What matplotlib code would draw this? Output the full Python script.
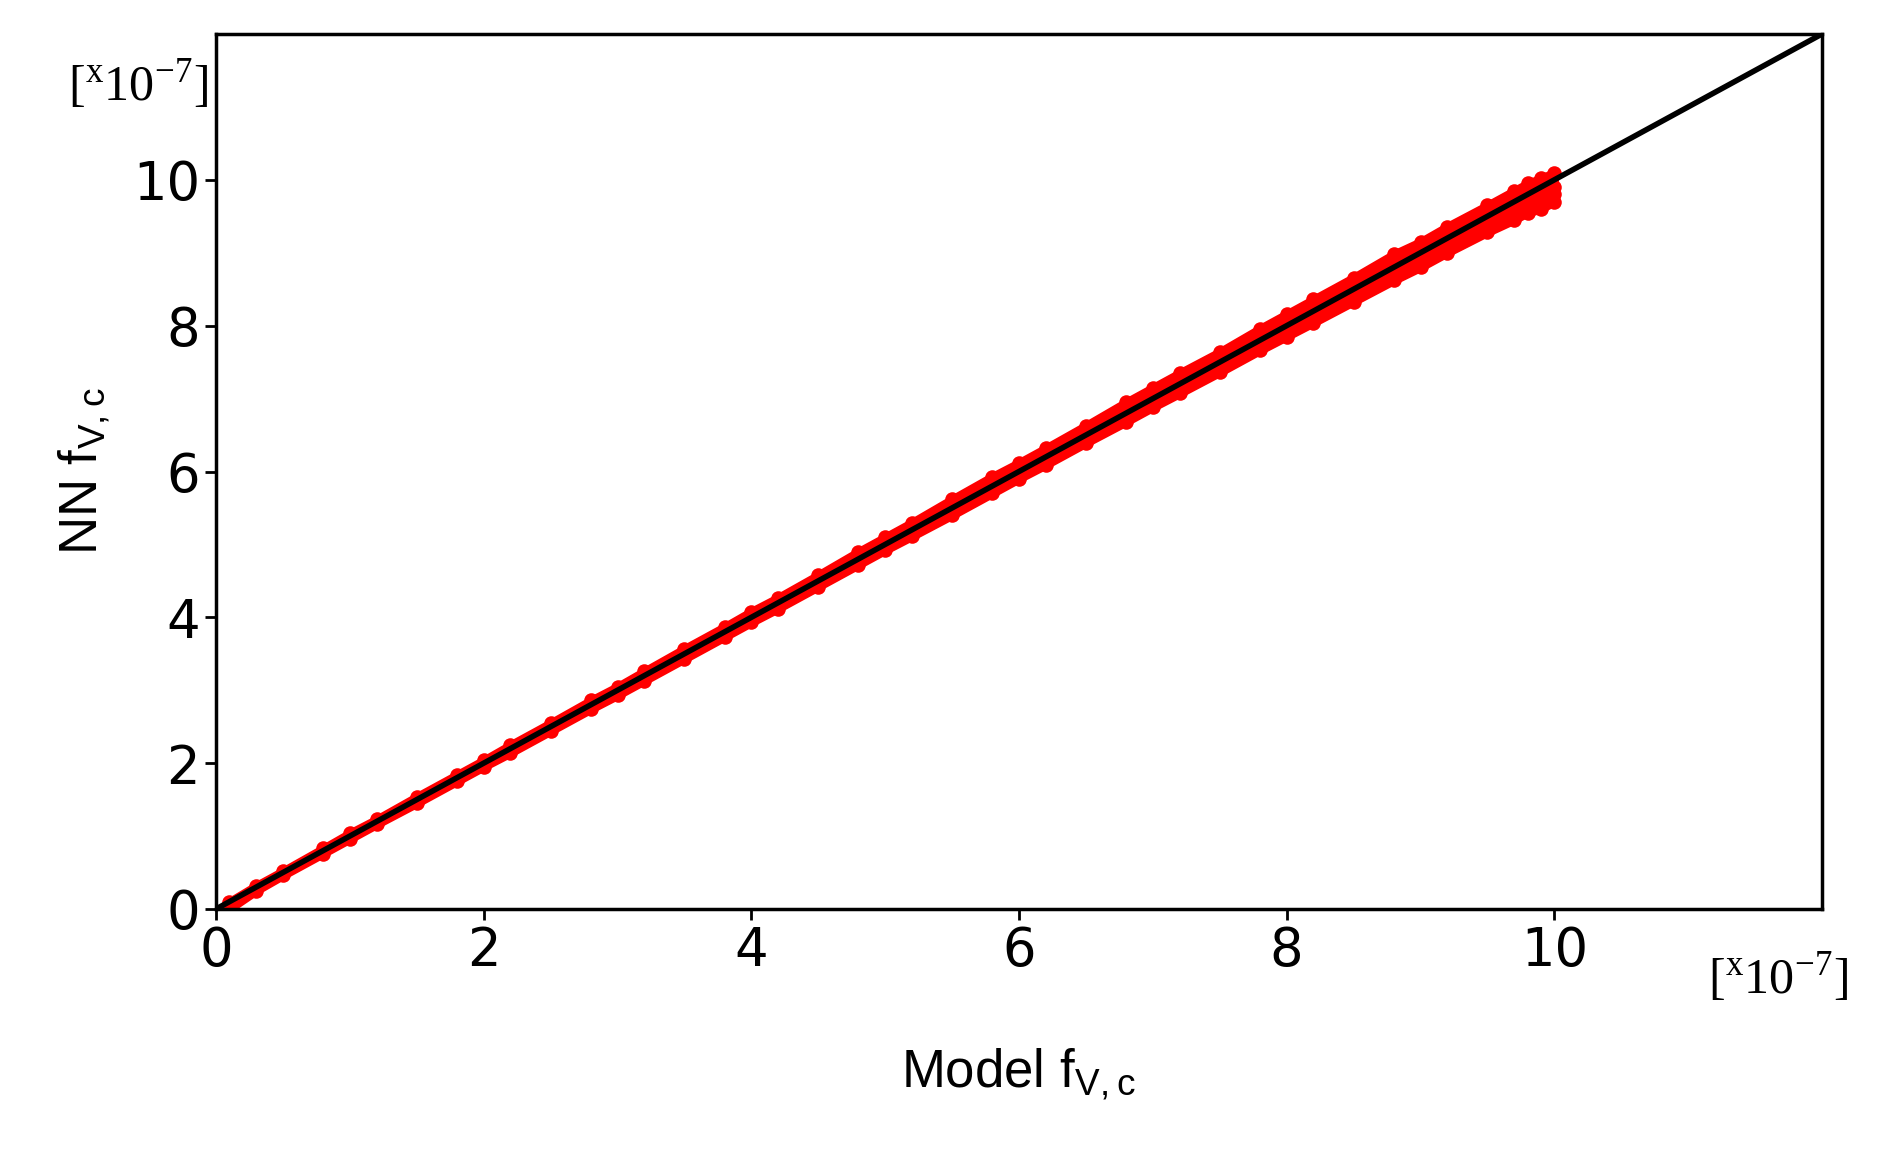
import matplotlib
matplotlib.use("Agg")
import matplotlib.pyplot as plt

model = [0.1,0.3,0.5,0.8,1.0,1.2,1.5,1.8,2.0,2.2,2.5,2.8,3.0,3.2,3.5,3.8,4.0,4.2,4.5,4.8,5.0,5.2,5.5,5.8,6.0,6.2,6.5,6.8,7.0,7.2,7.5,7.8,8.0,8.2,8.5,8.8,9.0,9.2,9.5,9.7,9.8,9.9,10.0,10.0]
nn_hi = [0.1,0.32,0.52,0.83,1.04,1.23,1.54,1.84,2.04,2.25,2.55,2.86,3.05,3.26,3.57,3.87,4.08,4.27,4.58,4.9,5.1,5.3,5.62,5.93,6.12,6.32,6.63,6.95,7.15,7.35,7.64,7.96,8.16,8.36,8.66,8.98,9.15,9.36,9.65,9.85,9.95,10.02,10.1,9.9]
nn_lo = [0.0,0.25,0.46,0.76,0.96,1.16,1.45,1.75,1.95,2.14,2.44,2.74,2.93,3.13,3.43,3.73,3.93,4.12,4.42,4.72,4.92,5.11,5.4,5.7,5.9,6.09,6.39,6.68,6.88,7.07,7.36,7.66,7.85,8.04,8.33,8.62,8.8,9.0,9.28,9.45,9.55,9.6,9.7,9.8]

fig = plt.figure(figsize=(18.95, 11.6), dpi=100)
ax = fig.add_axes([216/1895, 1-909/1160, (1822-216)/1895, (909-34)/1160])
ax.scatter(model, nn_hi, s=110, color="red", zorder=2, linewidths=0)
ax.scatter(model, nn_lo, s=110, color="red", zorder=2, linewidths=0)
ax.fill_between(model, nn_lo, nn_hi, color="red", zorder=2, lw=6, edgecolor="red")
ax.plot([0, 12], [0, 12], color="black", lw=4, zorder=3)
ax.set_xlim(0, 12)
ax.set_ylim(0, 12)
ax.set_xticks([0, 2, 4, 6, 8, 10])
ax.set_yticks([0, 2, 4, 6, 8, 10])
ax.tick_params(labelsize=38, length=8, width=2)
for s in ax.spines.values():
    s.set_linewidth(2.5)
ax.set_xlabel(r"Model f$_{\mathregular{V,c}}$", fontsize=38, labelpad=50, family="Liberation Sans")
ax.set_ylabel(r"NN f$_{\mathregular{V,c}}$", fontsize=38, labelpad=15, family="Liberation Sans")
fig.text(68/1895, 1-85/1160, r"[$^{\mathregular{x}}$10$^{\mathregular{-7}}$]", family="Liberation Serif", fontsize=36, va="center")
fig.text(1708/1895, 1-978/1160, r"[$^{\mathregular{x}}$10$^{\mathregular{-7}}$]", family="Liberation Serif", fontsize=36, va="center")
fig.savefig("out.png", dpi=100)
